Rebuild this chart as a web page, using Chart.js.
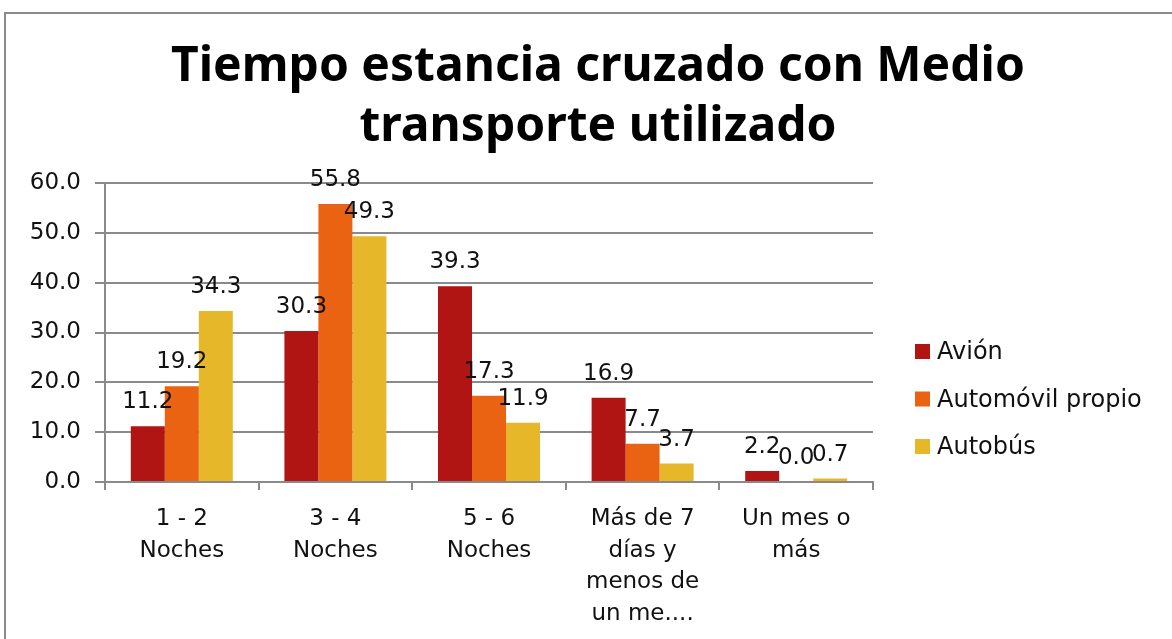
<!DOCTYPE html>
<html>
<head>
<meta charset="utf-8">
<script src="https://cdn.jsdelivr.net/npm/chart.js@4.4.1/dist/chart.umd.min.js"></script>
<style>
  html, body { margin: 0; padding: 0; background: #fff; overflow: hidden; }
  #frame { position: absolute; left: 4px; top: 12px; width: 1200px; height: 700px; border: 2px solid #8a8a8a; }
  #wrap { position: absolute; left: 0; top: 0; width: 1172px; height: 639px; }
</style>
</head>
<body>
<div id="frame"></div>
<div id="wrap"><canvas id="chart" width="1172" height="639"></canvas></div>
<script>
const FONT = "'DejaVu Sans', sans-serif";
const TITLE_FONT = "'Noto Sans', 'DejaVu Sans', sans-serif";

// Chart values
const categories = [
  ['1 - 2', 'Noches'],
  ['3 - 4', 'Noches'],
  ['5 - 6', 'Noches'],
  ['Más de 7', 'días y', 'menos de', 'un me....'],
  ['Un mes o', 'más']
];
const seriesNames = ['Avión', 'Automóvil propio', 'Autobús'];
const avion = [11.2, 30.3, 39.3, 16.9, 2.2];
const automovil = [19.2, 55.8, 17.3, 7.7, 0.0];
const autobus = [34.3, 49.3, 11.9, 3.7, 0.7];
const seriesColors = ['#B01513', '#EA6312', '#E6B729'];
const titleLines = ['Tiempo estancia cruzado con Medio', 'transporte utilizado'];

// title across the whole width (the plot keeps room for the legend)
const wideTitle = {
  id: 'wideTitle',
  afterDraw(chart) {
    const ctx = chart.ctx;
    ctx.save();
    ctx.font = 'bold 48px ' + TITLE_FONT;
    ctx.fillStyle = '#000';
    ctx.textAlign = 'center';
    ctx.textBaseline = 'alphabetic';
    titleLines.forEach((t, i) => ctx.fillText(t, 598, 81 + i * 60));
    ctx.restore();
  }
};

// value labels above each bar
const barLabels = {
  id: 'barLabels',
  afterDatasetsDraw(chart) {
    const ctx = chart.ctx;
    ctx.save();
    ctx.font = '23px ' + FONT;
    ctx.fillStyle = '#111';
    ctx.textAlign = 'center';
    ctx.textBaseline = 'alphabetic';
    chart.data.datasets.forEach((ds, i) => {
      chart.getDatasetMeta(i).data.forEach((bar, j) => {
        ctx.fillText(ds.data[j].toFixed(1), bar.x, bar.y - 18);
      });
    });
    ctx.restore();
  }
};

// legend on the right, drawn by hand so the plot area keeps its size
const sideLegend = {
  id: 'sideLegend',
  afterDraw(chart) {
    const ctx = chart.ctx;
    ctx.save();
    ctx.font = '24px ' + FONT;
    ctx.textBaseline = 'middle';
    chart.data.datasets.forEach((ds, i) => {
      const y = 352 + i * 47.5;
      ctx.fillStyle = ds.backgroundColor;
      ctx.fillRect(915, y - 8, 15, 15);
      ctx.fillStyle = '#111';
      ctx.fillText(ds.label, 937, y + 1);
    });
    ctx.restore();
  }
};

function draw() {
  new Chart(document.getElementById('chart'), {
    type: 'bar',
    data: {
      labels: categories,
      datasets: [
        { label: seriesNames[0], data: avion, backgroundColor: seriesColors[0] },
        { label: seriesNames[1], data: automovil, backgroundColor: seriesColors[1] },
        { label: seriesNames[2], data: autobus, backgroundColor: seriesColors[2] }
      ]
    },
    options: {
      responsive: false,
      animation: false,
      layout: { padding: { left: 0, right: 299, top: 183, bottom: 0 } },
      datasets: { bar: { categoryPercentage: 0.664, barPercentage: 1.0 } },
      plugins: {
        legend: { display: false },
        tooltip: { enabled: false },
        title: { display: false }
      },
      scales: {
        x: {
          grid: { offset: true, drawOnChartArea: false, color: '#8a8a8a', lineWidth: 2, tickLength: 8 },
          border: { color: '#8a8a8a', width: 2 },
          ticks: { color: '#111', font: { family: FONT, size: 23, lineHeight: 1.38 }, padding: 13, maxRotation: 0, autoSkip: false },
          afterFit(scale) { scale.height = 157; }
        },
        y: {
          min: 0, max: 60,
          grid: { color: '#8a8a8a', lineWidth: 2, tickLength: 10 },
          border: { color: '#8a8a8a', width: 2 },
          ticks: { stepSize: 10, color: '#111', font: { family: FONT, size: 23 }, padding: 14,
            callback: v => v.toFixed(1) },
          afterFit(scale) { scale.width = 105; }
        }
      }
    },
    plugins: [barLabels, sideLegend, wideTitle]
  });
}

Promise.all([
  document.fonts.load("bold 48px 'Noto Sans'"),
  document.fonts.load("23px 'DejaVu Sans'")
]).then(draw, draw);
</script>
</body>
</html>
